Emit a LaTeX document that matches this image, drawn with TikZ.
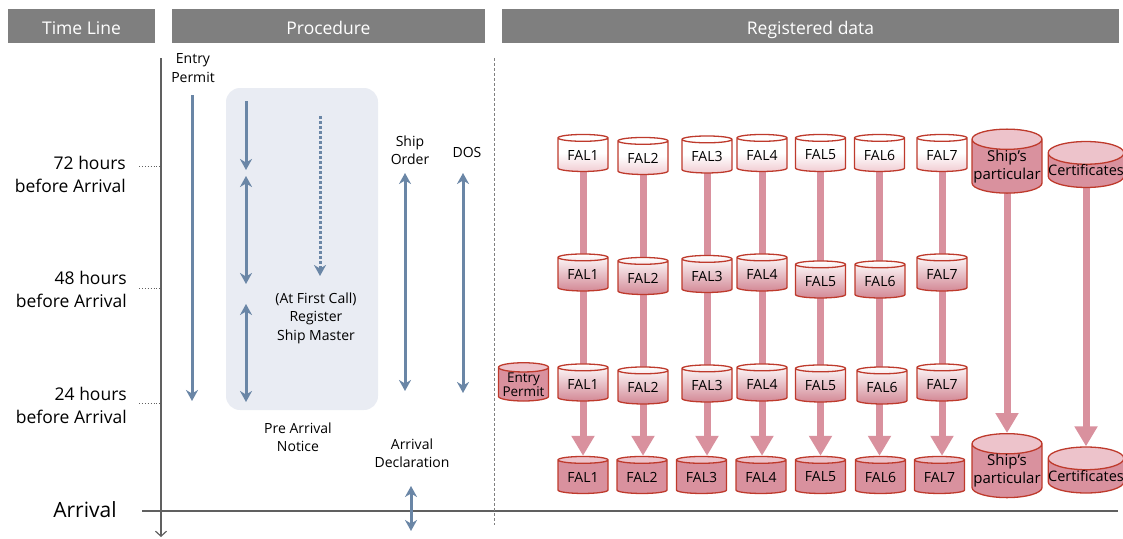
\documentclass[tikz,border=0pt]{standalone}
\usepackage{fontspec}
\setmainfont{Open Sans}
\usetikzlibrary{shapes.geometric,arrows.meta,backgrounds}
\definecolor{hdrgray}{HTML}{7F7F7F}
\definecolor{flowblue}{HTML}{6A86A6}
\definecolor{panelblue}{HTML}{E9ECF3}
\definecolor{falpink}{HTML}{D9919E}
\definecolor{falpinklight}{HTML}{EDC3CB}
\definecolor{falpale}{HTML}{F1CDD3}
\definecolor{falmid}{HTML}{D38996}
\definecolor{falred}{HTML}{BE3A2C}
\definecolor{axisgray}{HTML}{606060}
\begin{document}
\begin{tikzpicture}[x=1pt,y=-1pt,
  hdr/.style={fill=hdrgray, text=white, inner sep=0pt, minimum height=34pt,
    text height=17.5pt, text depth=0pt, font=\fontsize{17.5}{20}\selectfont},
  timelbl/.style={anchor=east, align=right, inner sep=0pt,
    font=\fontsize{17.5}{23}\selectfont},
  lbl/.style={align=center, inner sep=0pt, font=\fontsize{14}{18.5}\selectfont},
  panel/.style={fill=panelblue, rounded corners=14pt, minimum width=152pt,
    minimum height=322pt, inner sep=0pt},
  flowtip/.tip={Stealth[length=11pt,width=12pt,inset=3.5pt]},
  flow/.style={draw=flowblue, line width=3pt, -flowtip},
  flowboth/.style={flow, flowtip-flowtip},
  flowdot/.style={flow, dash pattern=on 2.8pt off 2.2pt},
  tick/.style={draw=axisgray, line width=0.9pt, dotted},
  cyl/.style={cylinder, shape border rotate=90, aspect=0.22, draw=falred,
    line width=1.3pt, minimum width=50pt, minimum height=37pt, inner sep=0pt,
    font=\fontsize{14}{16}\selectfont},
  cylwhite/.style={cyl, top color=white, bottom color=falpale, middle color=white},
  cylshade/.style={cyl, top color=white, bottom color=falmid},
  cylsolid/.style={cyl, cylinder uses custom fill, cylinder body fill=falpink,
    cylinder end fill=falpinklight},
  pinkline/.style={draw=falpink, line width=7pt},
  pinkarrow/.style={pinkline, -{Triangle[width=22pt,length=20pt]}}
]
\useasboundingbox (0,0) rectangle (1123,538);

% column headers
\node[hdr, minimum width=147pt] (hTime) at (81.5,25.5) {Time Line};
\node[hdr, minimum width=313pt] (hProc) at (328.5,25.5) {Procedure};
\node[hdr, minimum width=617pt] (hReg) at (810.5,25.5) {Registered data};

% time axis and arrival line
\coordinate (axTop) at (161,58);
\coordinate (axBot) at (161,537);
\draw[axisgray, line width=1.2pt, -{Straight Barb[length=5pt,width=11pt]}] (axTop) -- (axBot);
\coordinate (arrL) at (142,511);
\coordinate (arrR) at (1118,511);
\draw[axisgray, line width=1.4pt] (arrL) -- (arrR);
\coordinate (sepTop) at (494,58);
\coordinate (sepBot) at (494,525);
\draw[gray, line width=0.9pt, dash pattern=on 3pt off 2pt] (sepTop) -- (sepBot);

% time marks
\node[timelbl] (t72) at (126,174) {72 hours\\before Arrival};
\node[timelbl] (t48) at (127,289) {48 hours\\before Arrival};
\node[timelbl] (t24) at (127,405) {24 hours\\before Arrival};
\node[inner sep=0pt, font=\fontsize{21}{24}\selectfont] (tArr) at (85,510) {Arrival};
\draw[tick] (139,166) -- (160,166);
\draw[tick] (139,288) -- (160,288);
\draw[tick] (139,403) -- (160,403);

% procedure column
\node[panel] (pan) at (302,249) {};
\node[lbl] (lEP) at (193,68) {Entry\\Permit};
\node[lbl] (lReg) at (316,318) {(At First Call)\\Register\\Ship Master};
\node[lbl] (lPAN) at (298,437) {Pre Arrival\\Notice};
\node[lbl] (lSO) at (410,150) {Ship\\Order};
\node[lbl] (lDOS) at (467,152) {DOS};
\node[lbl] (lAD) at (412,453) {Arrival\\Declaration};

\coordinate (ep1) at (192,95);   \coordinate (ep2) at (192,401);
\coordinate (pa1) at (246,101);  \coordinate (pa2) at (246,170);
\coordinate (pb1) at (246,176);  \coordinate (pb2) at (246,284);
\coordinate (pc1) at (246,304);  \coordinate (pc2) at (246,402);
\coordinate (rm1) at (320,116);  \coordinate (rm2) at (320,276);
\coordinate (so1) at (405,173);  \coordinate (so2) at (405,391);
\coordinate (ds1) at (463,173);  \coordinate (ds2) at (463,393);
\coordinate (ad1) at (411,486);  \coordinate (ad2) at (411,531);
\draw[flow] (ep1) -- (ep2);
\draw[flow] (pa1) -- (pa2);
\draw[flowboth] (pb1) -- (pb2);
\draw[flowboth] (pc1) -- (pc2);
\draw[flowdot] (rm1) -- (rm2);
\draw[flowboth] (so1) -- (so2);
\draw[flowboth] (ds1) -- (ds2);
\draw[flowboth] (ad1) -- (ad2);

% registered data: 72 hours before arrival
\node[cylwhite] (f1a) at (583,155) {FAL1};
\node[cylwhite] (f2a) at (643,158) {FAL2};
\node[cylwhite] (f3a) at (707,156.5) {FAL3};
\node[cylwhite] (f4a) at (762,155) {FAL4};
\node[cylwhite] (f5a) at (820.5,155) {FAL5};
\node[cylwhite] (f6a) at (879.5,155) {FAL6};
\node[cylwhite] (f7a) at (942,155) {FAL7};
\node[cylsolid, minimum width=70pt, minimum height=59pt, aspect=0.3,
  align=center, font=\fontsize{15}{18}\selectfont] (spa) at (1007,166.5) {Ship’s\\particular};
\node[cylsolid, minimum width=74pt, minimum height=45pt, aspect=0.3,
  font=\fontsize{14.5}{16}\selectfont] (cea) at (1086,170.5) {Certificates};

% 48 hours before arrival
\node[cylshade] (f1b) at (583,274.5) {FAL1};
\node[cylshade] (f2b) at (643,278) {FAL2};
\node[cylshade] (f3b) at (707,276) {FAL3};
\node[cylshade] (f4b) at (762,274.5) {FAL4};
\node[cylshade] (f5b) at (820.5,281.5) {FAL5};
\node[cylshade] (f6b) at (880,281.5) {FAL6};
\node[cylshade] (f7b) at (942,274.5) {FAL7};

% 24 hours before arrival
\node[cylsolid, align=center, font=\fontsize{13.5}{14}\selectfont] (epc) at (523.5,384.5) {Entry\\Permit};
\node[cylshade] (f1c) at (583,384.5) {FAL1};
\node[cylshade] (f2c) at (643,387.5) {FAL2};
\node[cylshade] (f3c) at (707,385.5) {FAL3};
\node[cylshade] (f4c) at (762,384.5) {FAL4};
\node[cylshade] (f5c) at (820.5,385.5) {FAL5};
\node[cylshade] (f6c) at (882,387.5) {FAL6};
\node[cylshade] (f7c) at (942,384.5) {FAL7};

% at arrival
\node[cylsolid] (f1d) at (583,477) {FAL1};
\node[cylsolid] (f2d) at (642,477) {FAL2};
\node[cylsolid] (f3d) at (701.5,477) {FAL3};
\node[cylsolid] (f4d) at (761,477) {FAL4};
\node[cylsolid] (f5d) at (820.5,477) {FAL5};
\node[cylsolid] (f6d) at (880.5,477) {FAL6};
\node[cylsolid] (f7d) at (939.5,477) {FAL7};
\node[cylsolid, minimum width=70pt, minimum height=58pt, aspect=0.3,
  align=center, font=\fontsize{15}{18}\selectfont] (spd) at (1007,471) {Ship’s\\particular};
\node[cylsolid, minimum width=74pt, minimum height=46pt, aspect=0.3,
  font=\fontsize{14.5}{16}\selectfont] (ced) at (1086,476) {Certificates};

% data carried forward between the stages
\begin{scope}[on background layer]
  \foreach \c in {1,...,7} {
    \draw[pinkarrow] (f\c a.center) -- (f\c a.center |- f\c d.north);
  }
  \draw[pinkarrow] (spa.center) -- (spa.center |- spd.north);
  \draw[pinkarrow] (cea.center) -- (cea.center |- ced.north);
\end{scope}
\end{tikzpicture}
\end{document}
